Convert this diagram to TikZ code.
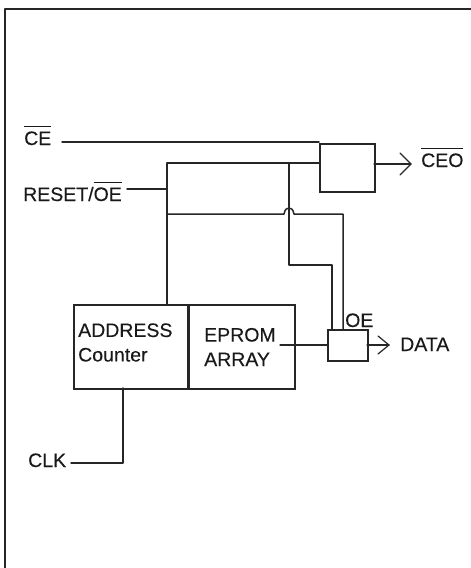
\documentclass[tikz,border=0pt]{standalone}
\usepackage{fontspec}
\setmainfont{Liberation Sans}[FakeBold=0.25]
\tikzset{
  wire/.style={line width=1.5pt,line cap=round,line join=round,black!85},
  thinwire/.style={line width=1.2pt,line cap=round,line join=round,black!85},
  blk/.style={draw=black!85,line width=1.5pt,fill=none,inner sep=0pt,anchor=north west},
  lab/.style={font=\fontsize{19.5}{24.5}\selectfont,inner sep=0pt,text=black!90,anchor=base west}
}
\newsavebox\ovbox
\newcommand{\ovl}[1]{\sbox\ovbox{#1}\rlap{\rule[18pt]{\wd\ovbox}{1.2pt}}\usebox\ovbox}
\begin{document}
\begin{tikzpicture}[x=1pt,y=-1pt]
\useasboundingbox (0,0) rectangle (471,568);
\draw[wire] (5,568) -- (5,9) -- (471,9);
\node[blk,minimum width=55pt,minimum height=48pt] (ceoblk) at (319,143) {};
\node[blk,minimum width=40pt,minimum height=31pt] (oeblk) at (327,329) {};
\node[blk,minimum width=114pt,minimum height=84pt] (addr) at (73,304) {};
\node[blk,minimum width=106pt,minimum height=84pt] (eprom) at (188,304) {};
\node[lab,anchor=west,align=left] (addrt) at (78,342.5) {ADDRESS\\Counter};
\node[lab,anchor=west,align=left] (epromt) at (204,347) {EPROM\\ARRAY};
\node[lab] (ce) at (24,145) {\ovl{CE}};
\node[lab] (reset) at (23,201) {RESET/\ovl{OE}};
\node[lab] (clk) at (28,467) {CLK};
\node[lab] (ceo) at (421,167) {\ovl{CEO}};
\node[lab] (data) at (400,351) {DATA};
\node[lab] (oe) at (345,327) {OE};
\coordinate (ceS) at (62,142);
\coordinate (ceE) at (319,142);
\coordinate (resS) at (127,189);
\coordinate (busTop) at (167,163);
\coordinate (busRes) at (167,189);
\coordinate (busMid) at (167,214);
\coordinate (busBot) at (167,304);
\coordinate (tapTop) at (289,163);
\coordinate (tapLow) at (289,265);
\coordinate (oeIn) at (332,265);
\coordinate (oeInB) at (332,329);
\coordinate (midR) at (343,214);
\coordinate (midRB) at (343,329);
\coordinate (ceoIn) at (319,163);
\coordinate (ceoOut) at (374,164);
\coordinate (ceoTip) at (411,164);
\coordinate (dIn) at (280,345);
\coordinate (dInE) at (327,345);
\coordinate (dOut) at (367,345);
\coordinate (dTip) at (389,345);
\coordinate (clkS) at (71,463);
\coordinate (clkC) at (123,463);
\coordinate (clkT) at (123,388);
\draw[wire] (ceS) -- (ceE);
\draw[wire] (resS) -- (busRes);
\draw[wire] (ceoIn) -- (busTop) -- (busBot);
\draw[wire] (tapTop) -- (tapLow) -- (oeIn) -- (oeInB);
\draw[wire] (busMid) -- (284,214) .. controls (285,209) and (287,208) .. (289,208) .. controls (291,208) and (293,209) .. (294,214) -- (midR) -- (midRB);
\draw[thinwire] (ceoOut) -- (ceoTip);
\draw[thinwire] (400,153) -- (ceoTip) -- (400,175);
\draw[thinwire] (dIn) -- (dInE);
\draw[thinwire] (dOut) -- (dTip);
\draw[thinwire] (378,336) -- (dTip) -- (378,354);
\draw[wire] (clkS) -- (clkC) -- (clkT);
\end{tikzpicture}
\end{document}
